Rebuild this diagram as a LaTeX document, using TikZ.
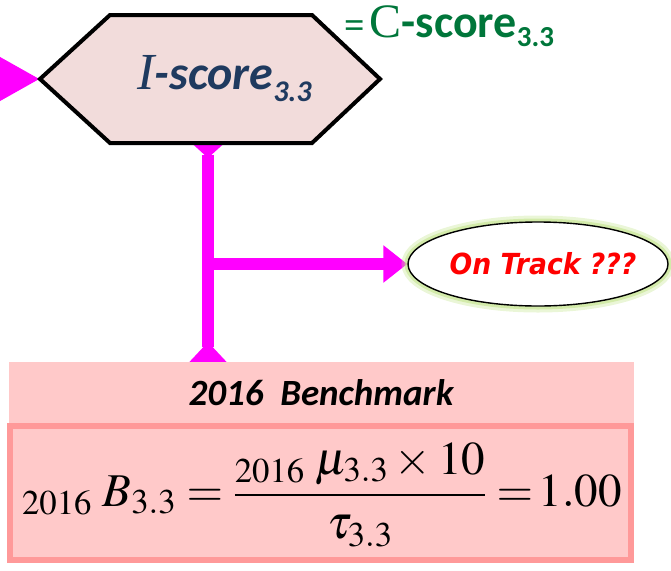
\documentclass[tikz,border=0pt]{standalone}
\usepackage[no-math]{fontspec}
\usepackage{mathptmx}
\setmainfont{Liberation Serif}
\newfontfamily\carl{Carlito}
\newfontfamily\djv[FakeStretch=0.92]{DejaVu Sans}
\usetikzlibrary{arrows.meta,shapes.geometric,backgrounds}

\definecolor{hexfill}{HTML}{F2DCDB}
\definecolor{hexink}{HTML}{1F3A5F}
\definecolor{cgreen}{RGB}{0,118,58}
\definecolor{mag}{HTML}{FF00FF}
\definecolor{benchfill}{HTML}{FFC9C9}
\definecolor{benchedge}{HTML}{FF9999}
\definecolor{glow}{RGB}{196,228,140}
\definecolor{trackred}{HTML}{FF0000}

\tikzset{
  magline/.style={draw=mag, fill=mag, line width=12pt},
  hexbox/.style={line width=4pt, line join=miter, fill=hexfill, draw=black},
  trackbox/.style={ellipse, draw=black, line width=1.4pt, fill=white,
    minimum width=260pt, minimum height=84pt, inner sep=0pt,
    preaction={draw=glow, line width=13pt, opacity=0.35},
    preaction={draw=glow, line width=7pt, opacity=0.6}},
  headbox/.style={fill=benchfill, minimum width=625pt, minimum height=61pt, inner sep=0pt},
  formbox/.style={fill=benchfill, draw=benchedge, line width=6pt,
    minimum width=621pt, minimum height=134pt, inner sep=0pt}
}

\begin{document}
\begin{tikzpicture}[x=1pt,y=-1pt]
\useasboundingbox (0,0) rectangle (671,570);
\clip (0,0) rectangle (671,570);

% boxes of the benchmark
\node[headbox, anchor=north west] (bench) at (9,362) {};
\node[formbox] (formula) at (320.5,493) {};
\node (benchtitle) at (321,393) {\carl\bfseries\itshape\fontsize{37}{37}\selectfont 2016\ \ Benchmark};
\node (eq) at (322,495) {\fontsize{47}{52}\selectfont
  $\displaystyle {}_{2016}\;B_{3.3} = \frac{{}_{2016}\;\mu_{3.3}\times 10}{\tau_{3.3}} \mathrel{=}\! 1.00$};

% hexagon
\draw[hexbox] (40,79) -- (110,15) -- (312,15) -- (380,79) -- (312,143) -- (110,143) -- cycle;
\node[anchor=base west, text=hexink, inner sep=0pt] (hex) at (137,89)
  {{\itshape\fontsize{52}{52}\selectfont I}{\carl\bfseries\itshape\fontsize{48}{48}\selectfont -score\raisebox{-12pt}{\fontsize{30}{30}\selectfont 3.3}}};

% equality with the C-score
\node[anchor=base west, text=cgreen, inner sep=0pt, text height=31pt] (cscore) at (344,37)
  {{\fontsize{36}{36}\selectfont\bfseries =}\hspace{5pt}{\fontsize{48}{48}\selectfont C}{\carl\bfseries\fontsize{46}{46}\selectfont -score\raisebox{-9pt}{\fontsize{29}{29}\selectfont 3.3}}};

% on-track check: the label is boxed to zero width so the ellipse keeps its size
\node[trackbox] (track) at (538,264)
  {\makebox[0pt]{\hspace{10pt}\djv\bfseries\itshape\fontsize{29}{29}\selectfont\color{trackred}On Track ???}};

% connector points
\coordinate (hexW) at (40,79);
\coordinate (hexS) at (208,144);
\coordinate (inL) at (-40,79);
\coordinate (br) at (208,264);

% magenta connectors, behind the shapes
\begin{scope}[on background layer]
\draw[magline, -{Triangle[length=41pt,width=42pt]}] (inL) -- (hexW);
\draw[magline, {Triangle[reversed,length=14pt,width=30pt]}-{Triangle[reversed,length=20pt,width=36pt]}]
  (hexS) -- (bench.north -| hexS);
\draw[magline, -{Triangle[length=24pt,width=36pt]}] (br) -- (track.west);
\end{scope}
\end{tikzpicture}
\end{document}
